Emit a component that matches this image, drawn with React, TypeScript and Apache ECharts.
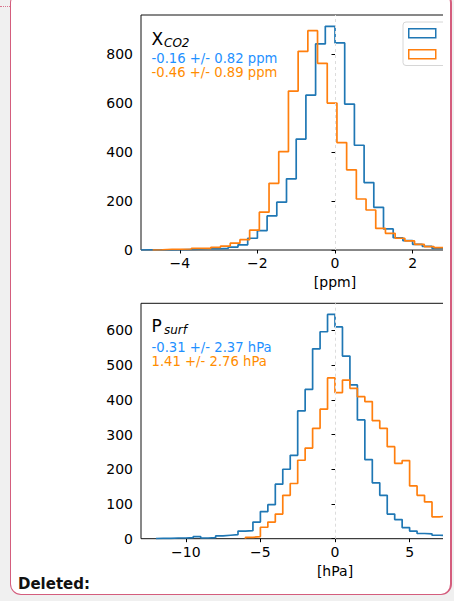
import React, { useEffect, useRef } from "react";
import * as echarts from "echarts";

// ---- data ----
const xco2BinWidth = 0.25;
const xco2BlueStart = -5.0;
const xco2BlueCounts = [1, 1, 0, 1, 2, 3, 5, 5, 7, 12, 21, 48, 79, 139, 195, 290, 452, 631, 840, 912, 844, 595, 427, 275, 174, 86, 50, 38, 23, 15, 7, 5];
const xco2OrangeStart = -4.7;
const xco2OrangeCounts = [1, 3, 3, 4, 7, 7, 11, 16, 28, 42, 81, 154, 272, 401, 648, 810, 894, 761, 599, 438, 327, 208, 163, 88, 68, 48, 37, 23, 14, 10, 6];

const psurfBinWidth = 0.5;
const psurfBlueStart = -12;
const psurfBlueCounts = [1, 1, 2, 2, 3, 6, 2, 3, 8, 10, 12, 22, 23, 48, 78, 98, 157, 200, 240, 368, 430, 547, 596, 646, 610, 526, 443, 342, 228, 161, 125, 71, 55, 32, 22, 15, 14, 10, 9];
const psurfOrangeStart = -6;
const psurfOrangeCounts = [4, 6, 33, 48, 71, 125, 159, 226, 261, 318, 373, 463, 421, 457, 433, 409, 395, 340, 318, 265, 217, 225, 152, 125, 106, 63, 65];

// visible tick labels (the figure is cropped on the right)
const xco2XTicks = [-4, -2, 0, 2];
const xco2YTicks = [0, 200, 400, 600, 800];
const psurfXTicks = [-10, -5, 0, 5];
const psurfYTicks = [0, 100, 200, 300, 400, 500, 600];

const xco2Stats = ["-0.16 +/- 0.82 ppm", "-0.46 +/- 0.89 ppm"];
const psurfStats = ["-0.31 +/- 2.37 hPa", "1.41 +/- 2.76 hPa"];

const BLUE = "#1f77b4";
const ORANGE = "#ff7f0e";
const TXT_BLUE = "#1e90ff";
const TXT_ORANGE = "#ff8c00";
const FONT = "DejaVu Sans";

function stepPoints(start: number, width: number, counts: number[]) {
  const pts: [number, number][] = [[start, 0]];
  counts.forEach((c, i) => pts.push([start + i * width, c]));
  const end = start + counts.length * width;
  pts.push([end, counts[counts.length - 1]]);
  pts.push([end, 0]);
  return pts;
}

const fmt = (v: number) => (v < 0 ? "\u2212" + Math.abs(v) : String(v));

function xAxisCfg(grid: number, min: number, max: number, ticks: number[], name: string) {
  return {
    gridIndex: grid,
    type: "value",
    min,
    max,
    axisLine: { show: false },
    axisTick: { show: true, length: 3.5, lineStyle: { color: "#000", width: 1 }, customValues: ticks },
    axisLabel: { customValues: ticks, formatter: fmt, color: "#000", fontSize: 14, fontFamily: FONT, margin: 6 },
    splitLine: { show: false },
    name,
    nameLocation: "middle",
    nameGap: 25,
    nameTextStyle: { color: "#000", fontSize: 14, fontFamily: FONT },
  };
}

function yAxisCfg(grid: number, max: number, ticks: number[]) {
  return {
    gridIndex: grid,
    type: "value",
    min: 0,
    max,
    axisLine: { show: false },
    axisTick: { show: true, length: 3.5, lineStyle: { color: "#000", width: 1 }, customValues: ticks },
    axisLabel: { customValues: ticks, formatter: fmt, color: "#000", fontSize: 14, fontFamily: FONT, margin: 8 },
    splitLine: { show: false },
  };
}

function histSeries(name: string, grid: number, start: number, width: number, counts: number[], color: string, zeroLine: boolean) {
  const s: any = {
    name,
    type: "line",
    xAxisIndex: grid,
    yAxisIndex: grid,
    step: "end",
    data: stepPoints(start, width, counts),
    symbol: "none",
    silent: true,
    clip: true,
    lineStyle: { color, width: 1.7 },
    itemStyle: { color },
  };
  if (zeroLine) {
    s.markLine = {
      silent: true,
      symbol: ["none", "none"],
      label: { show: false },
      lineStyle: { color: "#dcdcdc", type: [3, 3], width: 1 },
      data: [{ xAxis: 0 }],
    };
  }
  return s;
}

function txt(x: number, y: number, text: string, size: number, fill: string, italic = false) {
  return {
    type: "text",
    x,
    y,
    silent: true,
    style: { text, fontSize: size, fontFamily: FONT, fontStyle: italic ? "italic" : "normal", fill, align: "left", verticalAlign: "middle" },
  };
}

export default function App() {
  const ref = useRef<HTMLDivElement>(null);
  useEffect(() => {
    if (!ref.current) return;
    const chart = echarts.init(ref.current, null, { renderer: "svg" });
    chart.setOption({
      animation: false,
      grid: [
        { left: 141, top: 15, width: 388, height: 235, show: true, borderColor: "#111", borderWidth: 1, backgroundColor: "transparent" },
        { left: 141, top: 303.3, width: 388, height: 235.4, show: true, borderColor: "#111", borderWidth: 1, backgroundColor: "transparent" },
      ],
      xAxis: [
        xAxisCfg(0, -5, 5, xco2XTicks, "[ppm]"),
        xAxisCfg(1, -13, 13, psurfXTicks, "[hPa]"),
      ],
      yAxis: [yAxisCfg(0, 958, xco2YTicks), yAxisCfg(1, 678, psurfYTicks)],
      legend: {
        left: 403,
        top: 22,
        orient: "vertical",
        selectedMode: false,
        itemWidth: 27,
        itemHeight: 9,
        itemGap: 10.5,
        padding: [6, 60, 6, 5],
        borderColor: "#d6d6d6",
        borderWidth: 1,
        borderRadius: 3,
        backgroundColor: "rgba(255,255,255,0.85)",
        formatter: () => "",
        textStyle: { fontSize: 8, lineHeight: 9 },
        data: [
          { name: "XCO2 A", icon: "rect", itemStyle: { color: "rgba(0,0,0,0)", borderColor: BLUE, borderWidth: 1.5 } },
          { name: "XCO2 B", icon: "rect", itemStyle: { color: "rgba(0,0,0,0)", borderColor: ORANGE, borderWidth: 1.5 } },
        ],
      },
      series: [
        histSeries("XCO2 A", 0, xco2BlueStart, xco2BinWidth, xco2BlueCounts, BLUE, true),
        histSeries("XCO2 B", 0, xco2OrangeStart, xco2BinWidth, xco2OrangeCounts, ORANGE, false),
        histSeries("Psurf A", 1, psurfBlueStart, psurfBinWidth, psurfBlueCounts, BLUE, true),
        histSeries("Psurf B", 1, psurfOrangeStart, psurfBinWidth, psurfOrangeCounts, ORANGE, false),
      ],
      graphic: [
        txt(151.5, 38.5, "X", 17, "#000"),
        txt(164, 42.5, "CO2", 12, "#000", true),
        txt(151.5, 58, xco2Stats[0], 13.2, TXT_BLUE),
        txt(151.5, 72, xco2Stats[1], 13.2, TXT_ORANGE),
        txt(151.5, 326, "P", 17, "#000"),
        txt(164, 330, "surf", 12, "#000", true),
        txt(151.5, 347.5, psurfStats[0], 13.2, TXT_BLUE),
        txt(151.5, 361.5, psurfStats[1], 13.2, TXT_ORANGE),
      ],
    });
    return () => chart.dispose();
  }, []);

  return (
    <div style={{ position: "absolute", left: 0, top: 0, width: 454, height: 601, background: "#f0f0f0", overflow: "hidden" }}>
      <div style={{ position: "absolute", left: 0, top: 6, width: 10, borderTop: "1px dotted #d9748e" }} />
      <div
        style={{
          position: "absolute",
          left: 9.5,
          top: -8,
          width: 442,
          height: 602.5,
          boxSizing: "border-box",
          border: "1.5px solid #d45d7d",
          borderRightWidth: 2.5,
          borderRadius: 11,
          background: "#fff",
        }}
      />
      <div style={{ position: "absolute", left: 0, top: 0, width: 443, height: 601, overflow: "hidden" }}>
        <div ref={ref} style={{ width: 560, height: 601 }} />
      </div>
      <div style={{ position: "absolute", left: 18, top: 575, font: `bold 15px "${FONT}"`, color: "#111", lineHeight: "18px" }}>Deleted:</div>
    </div>
  );
}
